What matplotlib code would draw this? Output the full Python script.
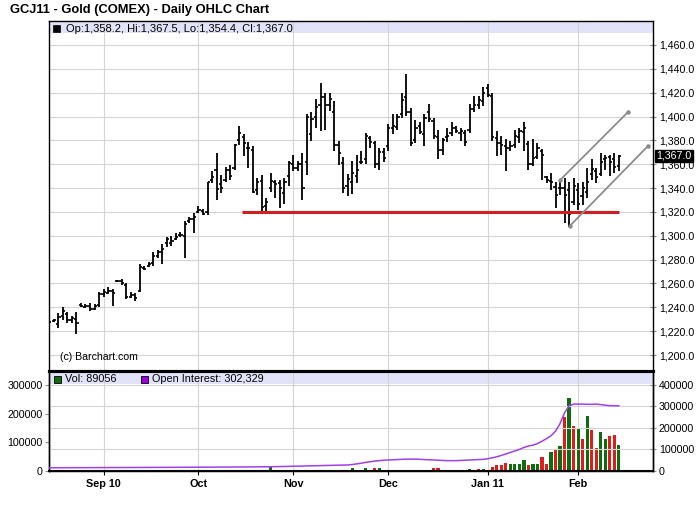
import matplotlib
matplotlib.use("Agg")
import matplotlib.pyplot as plt
import matplotlib.transforms as mtransforms
from matplotlib.patches import Rectangle
import numpy as np
import pandas as pd

plt.rcParams['font.family'] = ['Liberation Sans', 'DejaVu Sans']

# trading days, Aug 16 2010 - Feb 14 2011 (COMEX holidays removed)
holidays = ["2010-09-06", "2010-11-25", "2010-12-24", "2011-01-17"]
dates = pd.bdate_range("2010-08-16", "2011-02-14")
dates = dates[~dates.isin(pd.to_datetime(holidays))]

opens = [
    1227, 1228.5, 1226, 1233, 1234, 1229, 1230, 1242, 1240.5, 1241,
    1239, 1242, 1251, 1252, 1254, 1262, 1262, 1259, 1249, 1250,
    1254, 1273, 1275, 1277, 1283, 1286, 1294, 1294, 1297, 1301,
    1300, 1312, 1314, 1320, 1321, 1320, 1347, 1355, 1343, 1347,
    1355, 1357, 1380, 1383, 1374, 1372, 1338, 1346, 1325, 1340,
    1345, 1344, 1336, 1350, 1360, 1357, 1360, 1362, 1385, 1400,
    1410, 1416, 1410, 1404, 1376, 1361, 1342, 1345, 1350, 1362,
    1364, 1382, 1378, 1360, 1370, 1375, 1390, 1391, 1402, 1416,
    1404, 1380, 1392, 1385, 1404, 1396, 1383, 1372, 1383, 1386,
    1390, 1386, 1386, 1389, 1406, 1410, 1413, 1424, 1417, 1382,
    1378, 1375, 1374, 1376, 1383, 1387, 1377, 1360, 1366, 1371,
    1349, 1346, 1341, 1340, 1340, 1338, 1328, 1338, 1333, 1337,
    1352, 1354, 1352, 1364, 1366, 1364, 1358.2]
highs = [
    1229.5, 1230, 1235, 1240, 1236, 1233, 1236, 1244, 1243, 1244,
    1243, 1252.5, 1255.5, 1257, 1255.5, 1262.5, 1264, 1260, 1252.5, 1252,
    1276.5, 1274.5, 1278, 1286.5, 1288, 1293, 1299, 1299.5, 1302, 1303.5,
    1312, 1316, 1319, 1325, 1322.5, 1345.5, 1354, 1369.5, 1351, 1358,
    1359.5, 1377, 1392, 1385.5, 1379, 1375, 1348.5, 1351, 1331.5, 1353,
    1347, 1347, 1348.5, 1362.5, 1368, 1362.5, 1369.5, 1402, 1403.5, 1414.5,
    1428.5, 1420, 1420, 1413, 1379.5, 1366, 1352, 1362.5, 1368, 1371,
    1386.5, 1383.5, 1379.5, 1374, 1374, 1393.5, 1402, 1402, 1420, 1436,
    1407.5, 1397.5, 1395, 1402, 1410.5, 1399, 1389, 1382, 1390.5, 1395,
    1392, 1390.5, 1389, 1410.5, 1417.5, 1417.5, 1424.5, 1427.5, 1420, 1388,
    1383.5, 1381, 1379.5, 1389, 1390.5, 1395, 1379.5, 1381, 1378, 1372.5,
    1350, 1352.5, 1345.5, 1347, 1348.5, 1345.5, 1348.5, 1344, 1345.5, 1357,
    1364, 1357, 1369.5, 1368, 1368, 1369.5, 1367.5]
lows = [
    1225.5, 1228, 1223, 1229, 1226.5, 1226.5, 1217.5, 1240, 1239.5, 1237,
    1237.5, 1240, 1248.5, 1251, 1241.5, 1261, 1258.5, 1247, 1247.5, 1245.5,
    1252.5, 1271, 1274, 1275, 1281.5, 1276, 1290.5, 1291.5, 1296.5, 1299,
    1281.5, 1310.5, 1302, 1319, 1317.5, 1317, 1344, 1330, 1336, 1345.5,
    1347, 1355.5, 1376.5, 1367, 1357, 1336, 1334.5, 1320.5, 1320.5, 1337,
    1331.5, 1323, 1327, 1341.5, 1354, 1354, 1330, 1351, 1379.5, 1390.5,
    1388, 1389, 1405, 1371, 1359.5, 1336, 1333, 1335, 1344, 1360,
    1360, 1374, 1357, 1355.5, 1362, 1371, 1385, 1389, 1399, 1400.5,
    1375, 1378, 1385, 1375, 1395, 1381, 1364, 1368, 1379, 1383.5,
    1386.5, 1379.5, 1375, 1386.5, 1403.5, 1406, 1409, 1416, 1379.5, 1367,
    1368, 1354, 1371, 1374, 1378, 1371, 1355.5, 1358.5, 1364, 1347,
    1344, 1338.5, 1323, 1334.5, 1310.5, 1307.5, 1326, 1321.5, 1326, 1331.5,
    1347, 1344, 1350, 1355.5, 1350, 1352.5, 1354.4]
closes = [
    1228, 1229, 1232, 1237, 1229, 1231, 1227, 1241, 1241, 1239,
    1241, 1251, 1253, 1254, 1252, 1262, 1260, 1249, 1250, 1248,
    1274, 1272, 1276, 1283, 1286, 1289, 1297, 1296, 1299, 1301,
    1310, 1314, 1316, 1322, 1318, 1345, 1349, 1339, 1340, 1355,
    1350, 1376, 1386, 1378, 1374, 1337, 1345, 1324, 1328, 1346,
    1343, 1340, 1345, 1361, 1357, 1360, 1340, 1400, 1398, 1408,
    1416, 1410, 1415, 1376, 1369, 1340, 1348, 1353, 1355, 1362,
    1384, 1379, 1360, 1370, 1365, 1390, 1392, 1400, 1414, 1404,
    1378, 1390, 1387, 1399, 1398, 1384, 1372, 1380, 1384, 1390,
    1388, 1388, 1379, 1406, 1410, 1414, 1420, 1418, 1383, 1378,
    1376, 1374, 1375, 1384, 1388, 1390, 1360, 1365, 1374, 1368,
    1347, 1345, 1334, 1340, 1334, 1318, 1342, 1327, 1340, 1345,
    1356, 1349, 1362, 1365, 1362, 1358, 1367.0]

volume = [
    300, 250, 400, 350, 500, 300, 450, 600, 350, 400,
    300, 550, 500, 450, 600, 700, 500, 650, 550, 600,
    800, 700, 650, 900, 750, 800, 1000, 900, 850, 1100,
    1200, 1000, 950, 1300, 1100, 1400, 1500, 2500, 900, 1000,
    1100, 3500, 3200, 1200, 3000, 1400, 1500, 1800, 1600, 12500,
    1700, 1900, 2000, 2200, 2100, 3500, 4000, 3800, 4200, 3600,
    4500, 4000, 3800, 4200, 4400, 3900, 4600, 10500, 4500, 4200,
    9500, 5000, 11000, 10500, 3500, 4000, 3500, 3800, 4200, 4000,
    3900, 4100, 4300, 4000, 4200, 12000, 12000, 4000, 3800, 1500,
    1200, 1000, 1400, 7500, 5000, 6500, 6500, 3500, 15000, 22000,
    22000, 29000, 24000, 24000, 24000, 38000, 21000, 24000, 24000, 49000,
    24000, 66000, 73000, 87000, 190000, 255000, 158000, 149000, 113000, 192000,
    143000, 81000, 136000, 112000, 123000, 127000, 89056]
vol_dir = ("ggggrgrggr" "ggggrggrrg" "rgggggggrg" "gggggrg"
           "rggrggrgrgrggrrggr"
           "rrgrgrggrrrr"
           "grrgrrgrgrrrrrrrrrrrggrgrrggrg"
           "grrrrggggrggrrgrgrgrgrgrrggrrg")

open_interest = [
    15000, 15100, 15200, 15200, 15300, 15400, 15400, 15500, 15600, 15600,
    15700, 15800, 15900, 15900, 16000, 16100, 16100, 16200, 16300, 16400,
    16400, 16500, 16600, 16700, 16800, 16800, 16900, 17000, 17100, 17200,
    17300, 17400, 17500, 17600, 17700, 17800, 17900, 18000, 18100, 18200,
    18400, 18500, 18600, 18800, 18900, 19000, 19200, 19300, 19500,
    19800, 20200, 20600, 21000, 21500, 22000, 22500, 23000, 23500, 24000,
    24500, 25000, 25500, 26000, 26500, 27000, 27500, 28000,
    30000, 33000, 36000, 40000, 43000, 46000, 48000, 50000, 51000, 52000,
    53000, 54000, 55000, 55000,
    55000, 54000, 53000, 52000, 51000, 50000, 49000, 48000, 48000, 48000,
    49000, 50000, 51000, 52000, 53000, 54000,
    57000, 61000, 66000, 72000, 79000, 86000, 93000, 100000, 109000, 116000,
    120000, 127000, 138000, 150000, 163000, 185000, 220000, 270000, 302000, 310000,
    310000, 310000, 309000, 309000, 310000, 308000, 305000, 303000, 302500, 302329]

# month labels
month_labels = ["Sep 10", "Oct", "Nov", "Dec", "Jan 11", "Feb"]
month_starts = ["2010-09-01", "2010-10-01", "2010-11-01", "2010-12-01", "2011-01-03", "2011-02-01"]

# drawn lines: support at 1,320 and the rising channel (bar index, price)
support_x = [42.6, 126.0]
support_y = [1320, 1320]
channel_hi_x = [113.0, 128.1]
channel_hi_y = [1346.7, 1404.0]
channel_lo_x = [115.2, 132.5]
channel_lo_y = [1308.4, 1375.5]

x = np.arange(len(dates))
month_idx = [dates.get_loc(pd.Timestamp(d)) for d in month_starts]
xmin, xmax = -0.18, 133.45

W, H = 700, 512
fig = plt.figure(figsize=(7, 5.12), dpi=100)

def fx(px):
    return px / W

def fy(py):
    return 1 - py / H

L, R = 48.5, 652.5
ax = fig.add_axes([fx(L), fy(371), (R - L) / W, 350 / H])
axv = fig.add_axes([fx(L), fy(471), (R - L) / W, 100 / H])

grid_c = "#D4D4D4"

# price panel
ax.vlines(x, lows, highs, color="black", lw=1.3, zorder=3)
ax.hlines(opens, x - 0.48, x, color="black", lw=1.2, zorder=3)
ax.hlines(closes, x, x + 0.48, color="black", lw=1.2, zorder=3)
ax.plot(support_x, support_y, color="#D21E1E", lw=2.2, solid_capstyle="butt", zorder=4)
for cx, cy in [(channel_hi_x, channel_hi_y), (channel_lo_x, channel_lo_y)]:
    ax.plot(cx, cy, color="#8C8C8C", lw=1.3, zorder=4, clip_on=False)
    ax.plot(cx, cy, "o", color="#8C8C8C", ms=2.2, zorder=4, clip_on=False)

ax.set_xlim(xmin, xmax)
ax.set_ylim(1186.6, 1480.1)
ax.set_xticks(month_idx)
ax.set_xticklabels([])
ax.tick_params(axis="x", length=0)
ax.yaxis.tick_right()
yt = list(range(1200, 1461, 20))
ax.set_yticks(yt)
ax.set_yticklabels([f"{v:,.1f}" for v in yt])
ax.tick_params(axis="y", direction="inout", length=5, color="#8C8C8C",
               labelsize=7.7, pad=2)
ax.grid(True, color=grid_c, lw=0.8)
ax.set_axisbelow(True)
ax.add_patch(Rectangle((0, 1 - 12 / 350), 1, 12 / 350, transform=ax.transAxes,
                       facecolor="#E2E2F8", edgecolor="none", zorder=0.4))
for s in ax.spines.values():
    s.set_color("black")
    s.set_linewidth(1.0)
ax.spines["bottom"].set_linewidth(2.2)

tr = mtransforms.blended_transform_factory(ax.transAxes, ax.transData)
ax.text(1 + 4 / (R - L), closes[-1], f"{closes[-1]:,.1f}", transform=tr,
        color="white", fontsize=7.7, va="center", ha="left",
        bbox=dict(boxstyle="square,pad=0.12", facecolor="black", edgecolor="black"),
        zorder=6, clip_on=False)

# volume / open interest panel
axo = axv.twinx()
cols = ["#0E6B0E" if c == "g" else "#E01B1B" for c in vol_dir]
axv.bar(x, volume, width=0.72, color=cols, zorder=2)
axo.plot(x, open_interest, color="#A040E8", lw=1.1, zorder=3)
axv.set_xlim(xmin, xmax)
axv.set_ylim(0, 348800)
axo.set_ylim(0, 463500)
axv.set_yticks([0, 100000, 200000, 300000])
axv.set_yticklabels(["0", "100000", "200000", "300000"])
axo.set_yticks([0, 100000, 200000, 300000, 400000])
axo.set_yticklabels(["0", "100000", "200000", "300000", "400000"])
axv.tick_params(axis="y", direction="out", length=3, color="#8C8C8C", labelsize=7.7, pad=1)
axo.tick_params(axis="y", direction="inout", length=5, color="#8C8C8C", labelsize=7.7, pad=2)
axv.set_xticks(month_idx)
axv.set_xticklabels(month_labels, fontweight="bold", fontsize=7.8)
axv.tick_params(axis="x", direction="out", length=3, color="black", pad=3)
axv.grid(True, axis="x", color=grid_c, lw=0.8)
axo.grid(True, axis="y", color=grid_c, lw=0.8)
axv.set_axisbelow(True)
axo.set_axisbelow(True)
axv.add_patch(Rectangle((0, 1 - 13 / 100), 1, 13 / 100, transform=axv.transAxes,
                        facecolor="#E2E2F8", edgecolor="none", zorder=0.4))
for a in (axv, axo):
    for s in a.spines.values():
        s.set_color("black")
        s.set_linewidth(1.0)
    a.spines["top"].set_linewidth(2.2)
axv.spines["bottom"].set_linewidth(1.5)

# header texts
fig.text(fx(10), fy(10), "GCJ11 - Gold (COMEX) - Daily OHLC Chart",
         fontsize=9.3, fontweight="bold", va="center", ha="left")
fig.add_artist(Rectangle((fx(52.5), fy(32)), 7.5 / W, 7 / H, transform=fig.transFigure,
                         facecolor="black", edgecolor="black", lw=0.5))
fig.text(fx(65.5), fy(28.5), "Op:1,358.2, Hi:1,367.5, Lo:1,354.4, Cl:1,367.0",
         fontsize=8, va="center", ha="left")
fig.text(fx(60), fy(357), "(c) Barchart.com", fontsize=7.6, va="center", ha="left")
fig.add_artist(Rectangle((fx(53.5), fy(382.5)), 7 / W, 7 / H, transform=fig.transFigure,
                         facecolor="#0E6B0E", edgecolor="black", lw=0.6))
fig.text(fx(65), fy(379), f"Vol: {volume[-1]}", fontsize=7.8, va="center", ha="left")
fig.add_artist(Rectangle((fx(141), fy(382.5)), 7 / W, 7 / H, transform=fig.transFigure,
                         facecolor="#9900DD", edgecolor="black", lw=0.6))
fig.text(fx(152.5), fy(379), f"Open Interest: {open_interest[-1]:,}",
         fontsize=7.8, va="center", ha="left")

fig.savefig("out.png", dpi=100)
